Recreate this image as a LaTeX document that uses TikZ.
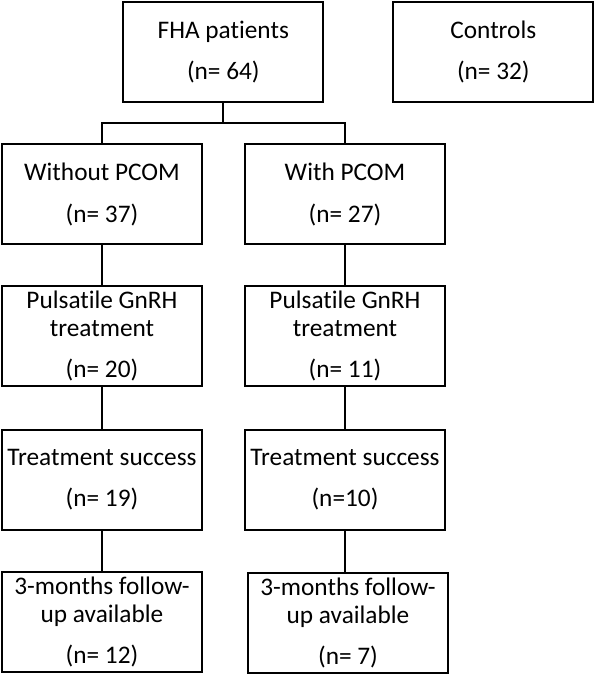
\documentclass[tikz,border=0pt]{standalone}
\usepackage{fontspec}
\setmainfont{Carlito}[Ligatures=NoCommon]
\usetikzlibrary{positioning}

\begin{document}
\begin{tikzpicture}[
  box/.style={rectangle, draw=black, line width=2pt, minimum width=200pt, minimum height=100pt, inner sep=1pt, outer sep=0pt, align=center, font=\fontsize{25.3}{27.7}\selectfont},
  link/.style={draw=black, line width=2pt}
]
  \useasboundingbox (0,0) rectangle (595pt,-676pt);

  % top row
  \node[box] (fha) at (223.3pt,-51.9pt) {FHA patients\\[13.8pt](n= 64)};
  \node[box, right=70pt of fha] (controls) {Controls\\[13.8pt](n= 32)};

  % left column
  \node[box, below=42.5pt of fha, xshift=-121.3pt] (nopcom) {Without PCOM\\[13.8pt](n= 37)};
  \node[box, below=41.7pt of nopcom] (puls1) {Pulsatile GnRH\\treatment\\[13.8pt](n= 20)};
  \node[box, below=43.5pt of puls1] (succ1) {Treatment success\\[13.8pt](n= 19)};
  \node[box, below=42.7pt of succ1] (fu1) {3-months follow-\\up available\\[13.8pt](n= 12)};

  % right column
  \node[box, right=43pt of nopcom] (withpcom) {With PCOM\\[13.8pt](n= 27)};
  \node[box, below=41.7pt of withpcom] (puls2) {Pulsatile GnRH\\treatment\\[13.8pt](n= 11)};
  \node[box, below=43.5pt of puls2] (succ2) {Treatment success\\[13.8pt](n=10)};
  \node[box, below=43.3pt of succ2, xshift=3pt] (fu2) {3-months follow-\\up available\\[13.8pt](n= 7)};

  % connectors
  \coordinate[below=21.5pt of fha.south] (split);
  \draw[link] (fha.south) -- (split);
  \draw[link] (nopcom.north) |- (split) -| (withpcom.north);

  \draw[link] (nopcom.south) -- (puls1.north);
  \draw[link] (puls1.south) -- (succ1.north);
  \draw[link] (succ1.south) -- (fu1.north);

  \draw[link] (withpcom.south) -- (puls2.north);
  \draw[link] (puls2.south) -- (succ2.north);
  \draw[link] (succ2.south) -- (succ2.south |- fu2.north);
\end{tikzpicture}
\end{document}
